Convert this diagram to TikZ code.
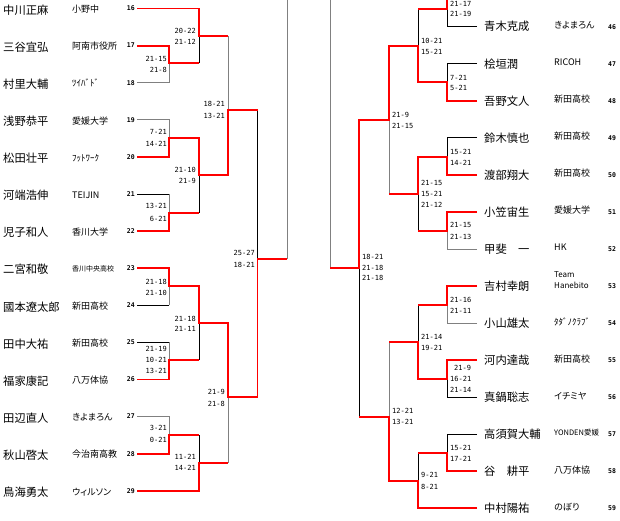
\documentclass[tikz,border=0pt]{standalone}
\usepackage{fontspec}
\newfontfamily\jpf{Noto Sans CJK JP}
\newfontfamily\jpp[RawFeature={+palt}]{Noto Sans CJK JP}
\newfontfamily\monof{DejaVu Sans Mono}
\tikzset{
  pname/.style={anchor=west, inner sep=0pt, font=\jpf\fontsize{11.3}{12}\selectfont, text height=9.9pt, text depth=1.4pt},
  club/.style={anchor=west, inner sep=0pt, font=\jpp\fontsize{9}{10}\selectfont, text height=7.9pt, text depth=1.1pt},
  seedl/.style={anchor=east, inner sep=0pt, font=\monof\bfseries\fontsize{6.5}{7}\selectfont, text height=4.7pt, text depth=0pt},
  seedr/.style={seedl, anchor=west},
  scl/.style={anchor=east, inner sep=0pt, font=\monof\fontsize{7}{8}\selectfont, text height=5.1pt, text depth=0pt},
  scr/.style={scl, anchor=west},
  win/.style={draw=red, line width=1.8pt},
  los/.style={draw=black, line width=1pt},
  gry/.style={draw=gray, line width=1pt},
}
\begin{document}
\begin{tikzpicture}[x=1pt, y=-1pt]
\useasboundingbox (0,0) rectangle (620,520);
\fill[white] (0,0) rectangle (620,520);
% ---------- left coordinates ----------
\coordinate (s16) at (137,8.5);
\coordinate (s17) at (137,45.6);
\coordinate (s18) at (137,82.7);
\coordinate (s19) at (137,119.8);
\coordinate (s20) at (137,156.9);
\coordinate (s21) at (137,194.0);
\coordinate (s22) at (137,231.1);
\coordinate (s23) at (137,268.2);
\coordinate (s24) at (137,305.3);
\coordinate (s25) at (137,342.4);
\coordinate (s26) at (137,379.5);
\coordinate (s27) at (137,416.6);
\coordinate (s28) at (137,453.7);
\coordinate (s29) at (137,490.8);
\coordinate (jA) at (169,63.3);
\coordinate (jB) at (199,36);
\coordinate (jC) at (169,138);
\coordinate (jD) at (169,212.7);
\coordinate (jE) at (199,175);
\coordinate (jF) at (228,110);
\coordinate (jG) at (169,286);
\coordinate (jH) at (169,360);
\coordinate (jI) at (199,323);
\coordinate (jJ) at (169,435);
\coordinate (jK) at (199,462.7);
\coordinate (jL) at (228,397);
\coordinate (jM) at (257.5,259);
\coordinate (tL) at (287,-2);
% ---------- right coordinates ----------
\coordinate (r45) at (477,-10.35);
\coordinate (r46) at (477,26.7);
\coordinate (r47) at (477,63.75);
\coordinate (r48) at (477,100.8);
\coordinate (r49) at (477,137.85);
\coordinate (r50) at (477,174.9);
\coordinate (r51) at (477,211.95);
\coordinate (r52) at (477,249.0);
\coordinate (r53) at (477,286.05);
\coordinate (r54) at (477,323.1);
\coordinate (r55) at (477,360.15);
\coordinate (r56) at (477,397.2);
\coordinate (r57) at (477,434.25);
\coordinate (r58) at (477,471.3);
\coordinate (r59) at (477,508.35);
\coordinate (kA) at (447,9);
\coordinate (kB) at (447,81.7);
\coordinate (kC) at (418,45.7);
\coordinate (kD) at (447,156.7);
\coordinate (kE) at (447,230.7);
\coordinate (kF) at (418,194);
\coordinate (kG) at (389,120);
\coordinate (kH) at (447,305);
\coordinate (kI) at (447,379);
\coordinate (kJ) at (418,342.3);
\coordinate (kK) at (447,453.3);
\coordinate (kL) at (418,481);
\coordinate (kM) at (389,416.7);
\coordinate (kN) at (359,267.7);
\coordinate (tR) at (330,-2);
% ---------- losing lines (left) ----------
\draw[gry] (s18) -| (jA);
\draw[los] (jA -| jB) -- (jB);
\draw[gry] (jB -| jF) -- (jF);
\draw[gry] (s19) -| (jC);
\draw[los] (s21) -- (s21 -| jD);
\draw[gry] (s21 -| jD) -- (jD);
\draw[los] (jD -| jE) -- (jE);
\draw[los] (jF -| jM) -- (jM);
\draw[los] (s24) -- (s24 -| jG);
\draw[gry] (s24 -| jG) -- (jG);
\draw[los] (s25) -- (s25 -| jH);
\draw[gry] (s25 -| jH) -- (jH);
\draw[los] (jH -| jI) -- (jI);
\draw[gry] (s27) -| (jJ);
\draw[los] (jJ -| jK) -- (jK);
\draw[gry] (jK -| jL) -- (jL);
\draw[gry] (jM -| tL) -- (tL);
% ---------- losing lines (right) ----------
\draw[los] (r46) -| (kA);
\draw[los] (kA -| kC) -- (kC);
\draw[los] (r47) -| (kB);
\draw[los] (r49) -| (kD);
\draw[gry] (r52) -| (kE);
\draw[los] (kE -| kF) -- (kF);
\draw[gry] (kF -| kG) -- (kG);
\draw[los] (kM -| kN) -- (kN);
\draw[gry] (r54) -| (kH);
\draw[los] (kH -| kJ) -- (kJ);
\draw[los] (r56) -| (kI);
\draw[gry] (kJ -| kM) -- (kM);
\draw[los] (r57) -| (kK);
\draw[los] (kK -| kL) -- (kL);
\draw[gry] (kN -| tR) -- (tR);
% ---------- winning lines (left) ----------
\draw[win] (s17) -| (jA) -- (jA -| jB);
\draw[win] (s16) -| (jB) -- (jB -| jF);
\draw[win] (s20) -| (jC) -- (jC -| jE) -- (jE) -- (jE -| jF) -- (jF) -- (jF -| jM);
\draw[win] (s22) -| (jD) -- (jD -| jE);
\draw[win] (s23) -| (jG) -- (jG -| jI) -- (jI) -- (jI -| jL) -- (jL) -- (jL -| jM) -- (jM) -- (jM -| tL);
\draw[win] (s26) -| (jH) -- (jH -| jI);
\draw[win] (s28) -| (jJ) -- (jJ -| jK);
\draw[win] (s29) -| (jK) -- (jK -| jL);
% ---------- winning lines (right) ----------
\draw[win] (r45) -| (kA) -- (kA -| kC);
\draw[win] (r48) -| (kB) -- (kB -| kC) -- (kC) -- (kC -| kG) -- (kG) -- (kG -| kN) -- (kN) -- (kN -| tR);
\draw[win] (r50) -| (kD) -- (kD -| kF) -- (kF) -- (kF -| kG);
\draw[win] (r51) -| (kE) -- (kE -| kF);
\draw[win] (r53) -| (kH) -- (kH -| kJ);
\draw[win] (r55) -| (kI) -- (kI -| kJ) -- (kJ) -- (kJ -| kM);
\draw[win] (r58) -| (kK) -- (kK -| kL);
\draw[win] (r59) -| (kL) -- (kL -| kM) -- (kM) -- (kM -| kN);
% ---------- left players ----------
\node[pname] (p16) at (3,10) {中川正麻};
\node[pname] (p17) at (3,47.1) {三谷宜弘};
\node[pname] (p18) at (3,84.2) {村里大輔};
\node[pname] (p19) at (3,121.3) {浅野恭平};
\node[pname] (p20) at (3,158.4) {松田壮平};
\node[pname] (p21) at (3,195.5) {河端浩伸};
\node[pname] (p22) at (3,232.6) {児子和人};
\node[pname] (p23) at (3,269.7) {二宮和敬};
\node[pname] (p24) at (3,306.8) {國本遼太郎};
\node[pname] (p25) at (3,343.9) {田中大祐};
\node[pname] (p26) at (3,381.0) {福家康記};
\node[pname] (p27) at (3,418.1) {田辺直人};
\node[pname] (p28) at (3,455.2) {秋山啓太};
\node[pname] (p29) at (3,492.3) {鳥海勇太};
\node[club] (c16) at (72,9.3) {小野中};
\node[club] (c17) at (72,46.4) {阿南市役所};
\node[club] (c18) at (72,83.5) {ﾂｲﾊﾞﾄﾞ};
\node[club] (c19) at (72,120.6) {愛媛大学};
\node[club] (c20) at (72,157.7) {ﾌｯﾄﾜｰｸ};
\node[club] (c21) at (72,194.8) {TEIJIN};
\node[club] (c22) at (72,231.9) {香川大学};
\node[club, font=\jpp\fontsize{7}{8}\selectfont, text height=6.1pt, text depth=0.9pt] (c23) at (72,269.0) {香川中央高校};
\node[club] (c24) at (72,306.1) {新田高校};
\node[club] (c25) at (72,343.2) {新田高校};
\node[club] (c26) at (72,380.3) {八万体協};
\node[club] (c27) at (72,417.4) {きよまろん};
\node[club] (c28) at (72,454.5) {今治南高教};
\node[club] (c29) at (72,491.6) {ウィルソン};
\node[seedl] (n16) at (135,8.5) {16};
\node[seedl] (n17) at (135,45.6) {17};
\node[seedl] (n18) at (135,82.7) {18};
\node[seedl] (n19) at (135,119.8) {19};
\node[seedl] (n20) at (135,156.9) {20};
\node[seedl] (n21) at (135,194.0) {21};
\node[seedl] (n22) at (135,231.1) {22};
\node[seedl] (n23) at (135,268.2) {23};
\node[seedl] (n24) at (135,305.3) {24};
\node[seedl] (n25) at (135,342.4) {25};
\node[seedl] (n26) at (135,379.5) {26};
\node[seedl] (n27) at (135,416.6) {27};
\node[seedl] (n28) at (135,453.7) {28};
\node[seedl] (n29) at (135,490.8) {29};
% ---------- right players ----------
\node[pname] (p46) at (484,26.7) {青木克成};
\node[pname] (p47) at (484,63.75) {桧垣潤};
\node[pname] (p48) at (484,100.8) {吾野文人};
\node[pname] (p49) at (484,137.85) {鈴木慎也};
\node[pname] (p50) at (484,174.9) {渡部翔大};
\node[pname] (p51) at (484,211.95) {小笠宙生};
\node[pname] (p52) at (484,249.0) {甲斐　一};
\node[pname] (p53) at (484,286.05) {吉村幸朗};
\node[pname] (p54) at (484,323.1) {小山雄太};
\node[pname] (p55) at (484,360.15) {河内達哉};
\node[pname] (p56) at (484,397.2) {真鍋聡志};
\node[pname] (p57) at (484,434.25) {高須賀大輔};
\node[pname] (p58) at (484,471.3) {谷　耕平};
\node[pname] (p59) at (484,508.35) {中村陽祐};
\node[club] (c46) at (554,25.2) {きよまろん};
\node[club] (c47) at (554,62.2) {RICOH};
\node[club] (c48) at (554,99.3) {新田高校};
\node[club] (c49) at (554,136.3) {新田高校};
\node[club] (c50) at (554,173.4) {新田高校};
\node[club] (c51) at (554,210.4) {愛媛大学};
\node[club] (c52) at (554,247.5) {HK};
\node[club, align=left, font=\jpp\fontsize{8}{11}\selectfont, text height=6pt, text depth=1pt] (c53) at (554,285.5) {Team\\Hanebito};
\node[club] (c54) at (554,321.6) {ﾀﾀﾞﾉｸﾗﾌﾞ};
\node[club] (c55) at (554,358.6) {新田高校};
\node[club] (c56) at (554,395.7) {イチミヤ};
\node[club, font=\jpp\fontsize{7.5}{8}\selectfont, text height=6.6pt, text depth=0.9pt] (c57) at (554,432.7) {YONDEN愛媛};
\node[club] (c58) at (554,469.8) {八万体協};
\node[club] (c59) at (554,506.8) {のぼり};
\node[seedr] (n46) at (608,26.7) {46};
\node[seedr] (n47) at (608,63.75) {47};
\node[seedr] (n48) at (608,100.8) {48};
\node[seedr] (n49) at (608,137.85) {49};
\node[seedr] (n50) at (608,174.9) {50};
\node[seedr] (n51) at (608,211.95) {51};
\node[seedr] (n52) at (608,249.0) {52};
\node[seedr] (n53) at (608,286.05) {53};
\node[seedr] (n54) at (608,323.1) {54};
\node[seedr] (n55) at (608,360.15) {55};
\node[seedr] (n56) at (608,397.2) {56};
\node[seedr] (n57) at (608,434.25) {57};
\node[seedr] (n58) at (608,471.3) {58};
\node[seedr] (n59) at (608,508.35) {59};
% ---------- scores (left) ----------
\node[scl] (t1a) at (167,59) {21-15};   \node[scl] (t1b) at (167,70) {21-8};
\node[scl] (t2a) at (196,31) {20-22};   \node[scl] (t2b) at (196,42) {21-12};
\node[scl] (t3a) at (167,132) {7-21};   \node[scl] (t3b) at (167,144) {14-21};
\node[scl] (t4a) at (167,206) {13-21};  \node[scl] (t4b) at (167,219) {6-21};
\node[scl] (t5a) at (196,170) {21-10};  \node[scl] (t5b) at (196,181) {21-9};
\node[scl] (t6a) at (225,104) {18-21};  \node[scl] (t6b) at (225,116) {13-21};
\node[scl] (t7a) at (167,282) {21-18};  \node[scl] (t7b) at (167,293) {21-10};
\node[scl] (t8a) at (167,349) {21-19};  \node[scl] (t8b) at (167,360) {10-21};  \node[scl] (t8c) at (167,371) {13-21};
\node[scl] (t9a) at (196,319) {21-18};  \node[scl] (t9b) at (196,329) {21-11};
\node[scl] (t10a) at (167,428) {3-21};  \node[scl] (t10b) at (167,440) {0-21};
\node[scl] (t11a) at (196,457) {11-21}; \node[scl] (t11b) at (196,468) {14-21};
\node[scl] (t12a) at (225,392) {21-9};  \node[scl] (t12b) at (225,404) {21-8};
\node[scl] (t13a) at (255,253) {25-27}; \node[scl] (t13b) at (255,265) {18-21};
% ---------- scores (right) ----------
\node[scr] (u1a) at (450,4) {21-17};    \node[scr] (u1b) at (450,14.3) {21-19};
\node[scr] (u2a) at (450,77.7) {7-21};  \node[scr] (u2b) at (450,88.3) {5-21};
\node[scr] (u3a) at (421,40.7) {10-21}; \node[scr] (u3b) at (421,51.7) {15-21};
\node[scr] (u4a) at (450,151.7) {15-21};\node[scr] (u4b) at (450,162.7) {14-21};
\node[scr] (u5a) at (450,225) {21-15};  \node[scr] (u5b) at (450,236.7) {21-13};
\node[scr] (u6a) at (421,183.3) {21-15};\node[scr] (u6b) at (421,194) {15-21}; \node[scr] (u6c) at (421,204.7) {21-12};
\node[scr] (u7a) at (392,115) {21-9};   \node[scr] (u7b) at (392,126) {21-15};
\node[scr] (u8a) at (450,300) {21-16};  \node[scr] (u8b) at (450,311) {21-11};
\node[scr] (u9a) at (454,367.7) {21-9}; \node[scr] (u9b) at (450,379.3) {16-21}; \node[scr] (u9c) at (450,390) {21-14};
\node[scr] (u10a) at (421,336.7) {21-14};\node[scr] (u10b) at (421,348.3) {19-21};
\node[scr] (u11a) at (450,448.3) {15-21};\node[scr] (u11b) at (450,459) {17-21};
\node[scr] (u12a) at (421,475) {9-21};   \node[scr] (u12b) at (421,486.7) {8-21};
\node[scr] (u13a) at (392,411) {12-21};  \node[scr] (u13b) at (392,422.3) {13-21};
\node[scr] (u14a) at (362,256.7) {18-21}; \node[scr] (u14b) at (362,267.7) {21-18}; \node[scr] (u14c) at (362,278.3) {21-18};
\end{tikzpicture}
\end{document}
